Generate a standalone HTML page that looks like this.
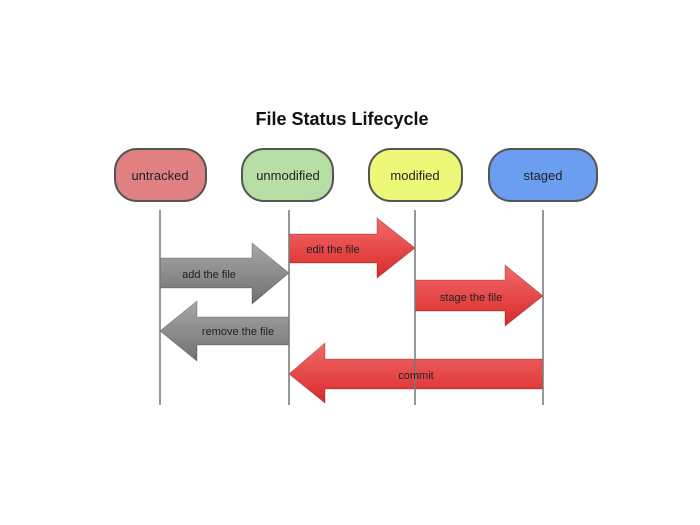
<!DOCTYPE html>
<html><head><style>
html,body{margin:0;padding:0;background:#fff;}
svg{display:block;}
text{font-family:"Liberation Sans",sans-serif;}
</style></head><body>
<svg width="700" height="525" viewBox="0 0 700 525">
<defs>
<linearGradient id="r" x1="0" y1="0" x2="0" y2="1"><stop offset="0" stop-color="#f46a6a"/><stop offset="1" stop-color="#d92a2a"/></linearGradient>
<linearGradient id="g" x1="0" y1="0" x2="0" y2="1"><stop offset="0" stop-color="#a8a8a8"/><stop offset="1" stop-color="#707070"/></linearGradient>
</defs>
<text x="342" y="125" text-anchor="middle" font-size="18" font-weight="bold" fill="#111">File Status Lifecycle</text>
<g stroke="#555" stroke-width="2">
<rect x="115" y="149" width="91" height="52" rx="22" fill="#e08080"/>
<rect x="242" y="149" width="91" height="52" rx="22" fill="#b5dfa5"/>
<rect x="369" y="149" width="93" height="52" rx="22" fill="#eef878"/>
<rect x="489" y="149" width="108" height="52" rx="22" fill="#6b9ef0"/>
</g>
<g font-size="13" fill="#222" text-anchor="middle">
<text x="160" y="180">untracked</text>
<text x="288" y="180">unmodified</text>
<text x="415" y="180">modified</text>
<text x="543" y="180">staged</text>
</g>
<g stroke="rgba(80,0,0,0.35)" stroke-width="0.8">
<polygon points="289,234 377,234 377,218 415,248 377,278 377,263 289,263" fill="url(#r)"/>
<polygon points="160,258 252,258 252,243 289,273 252,304 252,288 160,288" fill="url(#g)" stroke="rgba(0,0,0,0.3)"/>
<polygon points="415,280 505,280 505,265 543,296 505,326 505,311 415,311" fill="url(#r)"/>
<polygon points="289,317 197,317 197,301 160,331 197,361 197,345 289,345" fill="url(#g)" stroke="rgba(0,0,0,0.3)"/>
<polygon points="543,359 325,359 325,343 289,374 325,403 325,389 543,389" fill="url(#r)"/>
</g>
<g stroke="#777" stroke-width="1.5">
<line x1="160" y1="210" x2="160" y2="405"/>
<line x1="289" y1="210" x2="289" y2="405"/>
<line x1="415" y1="210" x2="415" y2="405"/>
<line x1="543" y1="210" x2="543" y2="405"/>
</g>
<g font-size="11" fill="#222" text-anchor="middle">
<text x="333" y="253">edit the file</text>
<text x="209" y="278">add the file</text>
<text x="471" y="301">stage the file</text>
<text x="238" y="335">remove the file</text>
<text x="416" y="379">commit</text>
</g>
</svg>
</body></html>
